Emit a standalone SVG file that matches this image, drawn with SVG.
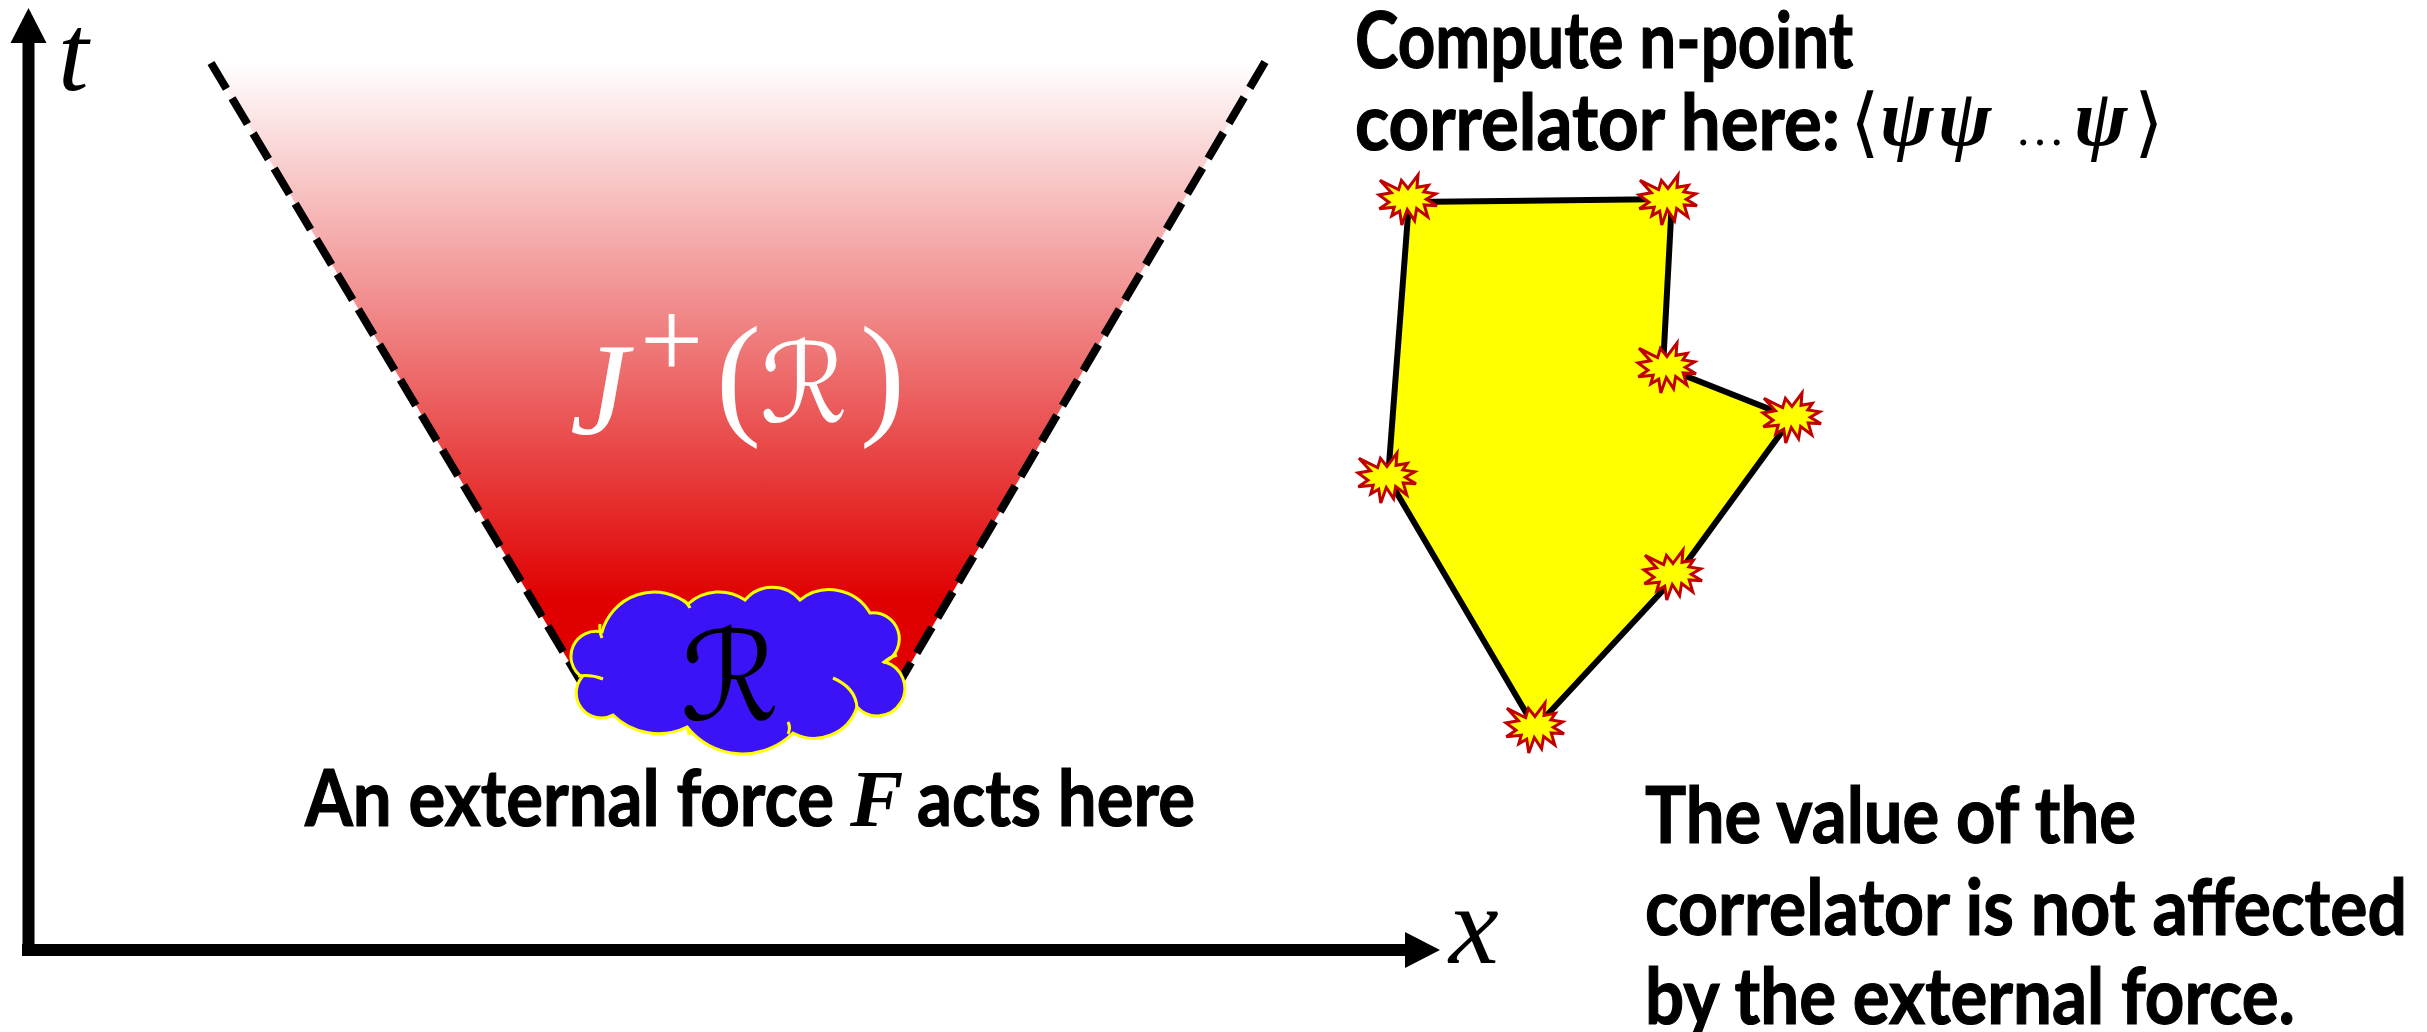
<svg xmlns="http://www.w3.org/2000/svg" width="2427" height="1032" viewBox="0 0 2427 1032">
<style>
.lbl{font-family:Lato,"Open Sans","DejaVu Sans",sans-serif;font-weight:bold;font-size:78px;fill:#000;stroke:#000;stroke-width:1.2}
.mi{font-family:"Liberation Serif","DejaVu Serif",serif;font-style:italic}
.mr{font-family:"Liberation Serif","DejaVu Serif",serif}
.scr{font-family:"DejaVu Serif","DejaVu Sans",serif}
.star{fill:#FFFF00;stroke:#C00000;stroke-width:3;stroke-linejoin:miter}
.axis{stroke:#000;stroke-width:12;fill:none}
.cone{stroke:#000;stroke-width:8;stroke-dasharray:30 11;fill:none}
.inner{fill:none;stroke:#FFFF00;stroke-width:3}
</style>
<defs>
<linearGradient id="redgrad" gradientUnits="userSpaceOnUse" x1="0" y1="62" x2="0" y2="600">
<stop offset="0" stop-color="#FFFFFF"/>
<stop offset="1" stop-color="#E00000"/>
</linearGradient>
<polygon id="burst" points="0,-11.55 9.99,-24.95 9.01,-12.65 20.35,-14.65 15.85,-8.05 27.65,-6.15 18.28,-0.75 29,5.75 16.21,4.95 19.72,16.85 8.65,8.45 6.57,20.64 -0.72,9.55 -6.22,24.95 -8.28,11.15 -16.21,15.75 -13.78,7.25 -28.64,8.75 -19,2.25 -29,-5.05 -16.57,-7.35 -28,-19.65 -9.37,-10.35 -6.57,-19.65"/>
</defs>
<rect width="2427" height="1032" fill="#FFFFFF"/>

<g id="light-cone">
<polygon points="211,62 1265,62 895,690 586,690" fill="url(#redgrad)"/>
</g>

<g id="connectors">
<line class="cone" x1="211" y1="63" x2="586" y2="690"/>
<line class="cone" x1="1265" y1="62" x2="895" y2="690"/>
<line class="axis" x1="28.5" y1="956" x2="28.5" y2="40"/>
<polygon points="10.5,43 46.5,43 28.5,8" fill="#000"/>
<line class="axis" x1="22" y1="950" x2="1408" y2="950"/>
<polygon points="1405,932 1405,968 1440,950" fill="#000"/>
</g>

<g id="axis-labels">
<text class="mi" x="58" y="90" font-size="110">t</text>
<text class="mi" x="1449" y="963" font-size="112">x</text>
</g>

<g id="j-plus-label">
<text fill="#FFFFFF">
<tspan class="mi" x="570" y="434" font-size="132">J</tspan>
<tspan class="mr" x="640" y="378" font-size="112">+</tspan>
<tspan class="mr" x="716" y="420" font-size="135">(</tspan>
<tspan class="scr" x="760" y="422" font-size="110">ℛ</tspan>
<tspan class="mr" x="860" y="420" font-size="135">)</tspan>
</text>
</g>

<g id="region-R">
<path d="M602,632 A54,54 0 0 1 688,604 A46,46 0 0 1 745,600 A36,36 0 0 1 800,600 A47,47 0 0 1 870,613 A26,26 0 0 1 885,662 A27.5,27.5 0 1 1 857,707 A45,45 0 0 1 793,733 A71,71 0 0 1 687,727 A65,65 0 0 1 613,715 A25,25 0 0 1 582,677 A25,25 0 0 1 602,632 Z" fill="#3C13F6" stroke="#FFFF00" stroke-width="3"/>
<path class="inner" d="M833,678 Q856,688 857,708"/>
<path class="inner" d="M578,676 Q591,674 603,679"/>
<path class="inner" d="M883,663 Q890,657 897,655"/>
<path class="inner" d="M600,624 Q599,631 602,638"/>
<path class="inner" d="M683,600 Q688,603 690,608"/>
<path class="inner" d="M788,722 Q791,728 788,734"/>
<path class="inner" d="M687,727 Q689,731 689,735"/>
<text class="scr" x="730" y="720" font-size="124" text-anchor="middle" fill="#000">ℛ</text>
</g>

<g id="force-label">
<text class="lbl" x="305" y="826" textLength="529" lengthAdjust="spacingAndGlyphs">An external force</text>
<text class="mi" x="850" y="826" font-size="80" font-weight="bold">F</text>
<text class="lbl" x="917" y="826" textLength="278" lengthAdjust="spacingAndGlyphs">acts here</text>
</g>

<g id="correlator-label">
<text class="lbl" x="1355" y="68" textLength="498" lengthAdjust="spacingAndGlyphs">Compute n-point</text>
<text class="lbl" x="1355" y="150" textLength="485" lengthAdjust="spacingAndGlyphs">correlator here:</text>
<text font-size="80">
<tspan class="scr" x="1850" y="148" font-size="76">⟨</tspan>
<tspan class="mi" x="1880" y="145" font-weight="bold">ψ</tspan>
<tspan class="mi" x="1938" y="145" font-weight="bold">ψ</tspan>
<tspan class="mr" x="2015" y="145" font-size="50">…</tspan>
<tspan class="mi" x="2074" y="145" font-weight="bold">ψ</tspan>
<tspan class="scr" x="2134" y="148" font-size="76">⟩</tspan>
</text>
</g>

<g id="region-polygon">
<polygon points="1409,202 1672,199 1663,367 1792,418 1678,574 1535,728 1388,478" fill="#FFFF00" stroke="#000" stroke-width="6" stroke-linejoin="miter"/>
</g>

<g id="insertion-points">
<use href="#burst" class="star" transform="translate(1408,200)"/>
<use href="#burst" class="star" transform="translate(1668,200)"/>
<use href="#burst" class="star" transform="translate(1667,368)"/>
<use href="#burst" class="star" transform="translate(1792,418)"/>
<use href="#burst" class="star" transform="translate(1387,478)"/>
<use href="#burst" class="star" transform="translate(1673,575)"/>
<use href="#burst" class="star" transform="translate(1535,728)"/>
</g>

<g id="conclusion-label">
<text class="lbl" x="1645" y="843" textLength="491" lengthAdjust="spacingAndGlyphs">The value of the</text>
<text class="lbl" x="1645" y="935" textLength="762" lengthAdjust="spacingAndGlyphs">correlator is not affected</text>
<text class="lbl" x="1645" y="1024" textLength="650" lengthAdjust="spacingAndGlyphs">by the external force.</text>
</g>
</svg>
